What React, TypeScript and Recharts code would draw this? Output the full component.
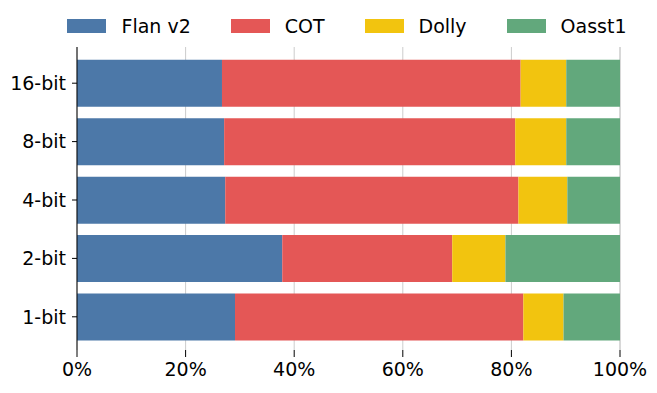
import { Bar, BarChart, CartesianGrid, Legend, XAxis, YAxis } from 'recharts';

document.body.style.margin = '0';

const categories = ['16-bit', '8-bit', '4-bit', '2-bit', '1-bit'];
const flanV2 = [26.7, 27.1, 27.3, 37.8, 29.1];
const cot = [55.0, 53.6, 54.0, 31.3, 53.1];
const dolly = [8.4, 9.4, 9.0, 9.8, 7.4];
const oasst1 = [9.9, 9.9, 9.7, 21.1, 10.4];
const xTicks = [0, 20, 40, 60, 80, 100];

const SERIES = [
  { key: 'flan', name: 'Flan v2', color: '#4c78a8' },
  { key: 'cot', name: 'COT', color: '#e45756' },
  { key: 'dolly', name: 'Dolly', color: '#f2c40f' },
  { key: 'oasst', name: 'Oasst1', color: '#62a87c' },
];

const data = categories.map((name, i) => ({
  name,
  flan: flanV2[i],
  cot: cot[i],
  dolly: dolly[i],
  oasst: oasst1[i],
}));

const FONT = '"DejaVu Sans", sans-serif';

function LegendContent() {
  return (
    <div
      style={{
        display: 'flex',
        justifyContent: 'center',
        alignItems: 'center',
        height: 30,
        fontFamily: FONT,
        fontSize: 19,
        color: '#000',
        whiteSpace: 'nowrap',
      }}
    >
      {SERIES.map((s, i) => (
        <div
          key={s.key}
          style={{
            display: 'flex',
            alignItems: 'center',
            flexShrink: 0,
            marginRight: i < SERIES.length - 1 ? 40 : 0,
          }}
        >
          <span
            style={{ width: 39, height: 14, flexShrink: 0, background: s.color, marginRight: 15 }}
          />
          <span>{s.name}</span>
        </div>
      ))}
    </div>
  );
}

export default function App() {
  return (
    <BarChart
      width={657}
      height={393}
      data={data}
      layout="vertical"
      margin={{ top: 17, right: 37, bottom: 0, left: 0 }}
      barCategoryGap="10%"
    >
      <CartesianGrid horizontal={false} stroke="#cccccc" />
      <Legend
        verticalAlign="top"
        content={<LegendContent />}
        wrapperStyle={{ top: 11, left: 47, width: 600, height: 30 }}
      />
      <XAxis
        type="number"
        domain={[0, 100]}
        ticks={xTicks}
        tickFormatter={(v: number) => `${v}%`}
        axisLine={false}
        tickLine={{ stroke: '#000' }}
        tickSize={7}
        tickMargin={6}
        height={43}
        tick={{ fontSize: 19, fontFamily: FONT, fill: '#000' }}
        interval={0}
      />
      <YAxis
        type="category"
        dataKey="name"
        width={77}
        axisLine={{ stroke: '#000' }}
        tickLine={{ stroke: '#000' }}
        tickSize={5}
        tickMargin={6}
        padding={{ top: 7, bottom: 4 }}
        tick={{ fontSize: 19, fontFamily: FONT, fill: '#000' }}
      />
      {SERIES.map((s) => (
        <Bar
          key={s.key}
          dataKey={s.key}
          name={s.name}
          stackId="a"
          fill={s.color}
          isAnimationActive={false}
        />
      ))}
    </BarChart>
  );
}
